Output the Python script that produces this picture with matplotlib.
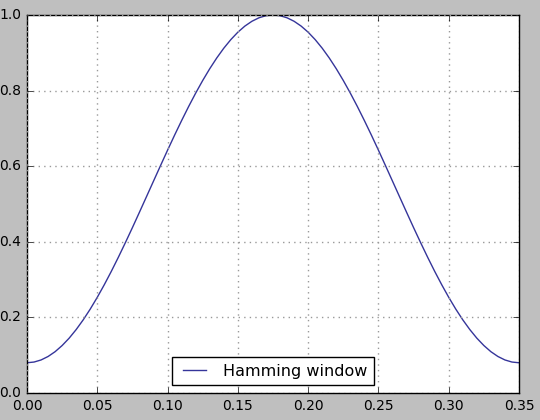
import matplotlib
matplotlib.use('Agg')
import matplotlib.pyplot as plt

# samples of the window (symmetric about 0.175)
x_vals = [0.000, 0.005, 0.010, 0.015, 0.020, 0.025, 0.030, 0.035, 0.040, 0.045,
          0.050, 0.055, 0.060, 0.065, 0.070, 0.075, 0.080, 0.085, 0.090, 0.095,
          0.100, 0.105, 0.110, 0.115, 0.120, 0.125, 0.130, 0.135, 0.140, 0.145,
          0.150, 0.155, 0.160, 0.165, 0.170, 0.175, 0.180, 0.185, 0.190, 0.195,
          0.200, 0.205, 0.210, 0.215, 0.220, 0.225, 0.230, 0.235, 0.240, 0.245,
          0.250, 0.255, 0.260, 0.265, 0.270, 0.275, 0.280, 0.285, 0.290, 0.295,
          0.300, 0.305, 0.310, 0.315, 0.320, 0.325, 0.330, 0.335, 0.340, 0.345,
          0.350]
y_vals = [0.0800, 0.0819, 0.0874, 0.0966, 0.1093, 0.1256, 0.1451, 0.1679, 0.1936, 0.2221,
          0.2532, 0.2866, 0.3220, 0.3592, 0.3979, 0.4376, 0.4783, 0.5194, 0.5606, 0.6017,
          0.6424, 0.6822, 0.7208, 0.7580, 0.7934, 0.8268, 0.8579, 0.8864, 0.9122, 0.9349,
          0.9545, 0.9707, 0.9834, 0.9926, 0.9982, 1.0000, 0.9982, 0.9926, 0.9834, 0.9707,
          0.9545, 0.9349, 0.9122, 0.8864, 0.8579, 0.8268, 0.7934, 0.7580, 0.7208, 0.6822,
          0.6424, 0.6017, 0.5606, 0.5194, 0.4783, 0.4376, 0.3979, 0.3592, 0.3220, 0.2866,
          0.2532, 0.2221, 0.1936, 0.1679, 0.1451, 0.1256, 0.1093, 0.0966, 0.0874, 0.0819,
          0.0800]
legend_label = 'Hamming window'

plt.style.use('classic')

fig = plt.figure(figsize=(5.4, 4.2), dpi=100)
ax = fig.add_axes([27/540, 1 - 393/420, (519 - 27)/540, (393 - 15)/420])

ax.plot(x_vals, y_vals, color='#35359a', linewidth=1.0, label=legend_label)

ax.set_xlim(0, 0.35)
ax.set_ylim(0, 1.0)
ax.grid(True, color='#999999', linestyle=':', linewidth=1.0)
ax.tick_params(labelsize=10)

ax.legend(loc='lower center', fontsize=11.5)

fig.savefig('out.png', dpi=100, facecolor=fig.get_facecolor())
